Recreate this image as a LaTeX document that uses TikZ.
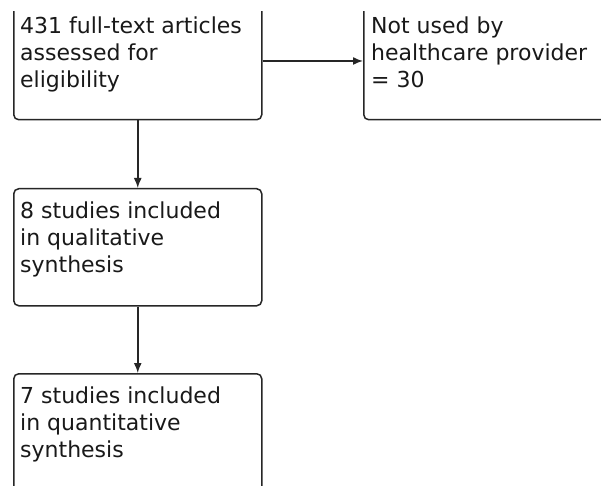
\documentclass[tikz,border=0pt]{standalone}
\usepackage{fontspec}
\setmainfont{DejaVu Sans}
\usetikzlibrary{arrows.meta}
\tikzset{
  box/.style={draw=black!85, line width=1.5pt, rounded corners=5pt, inner sep=0pt, anchor=north west},
  label/.style={anchor=north west, inner sep=0pt, align=left, text=black!90,
    font=\fontsize{22}{27}\selectfont},
  arr/.style={draw=black!85, line width=1.5pt, -{Latex[length=10pt,width=8pt]}}
}
\newcommand{\fl}{\rule{0pt}{17pt}}
\begin{document}
\begin{tikzpicture}[x=1pt,y=-1pt]
\useasboundingbox (0,0) rectangle (601,486);
\fill[white] (0,0) rectangle (601,486);
\begin{scope}
\clip (0,12) rectangle (601,486);
\node[box, minimum width=248pt, minimum height=149pt] (top) at (13,-30) {};
\node[box, minimum width=300pt, minimum height=149pt] (right) at (363,-30) {};
\node[box, minimum width=248pt, minimum height=117pt] (mid) at (13,188) {};
\node[box, minimum width=248pt, minimum height=150pt] (bot) at (13,373) {};
\coordinate (hy) at (0,61);
\draw[arr] (top.east |- hy) -- (right.west |- hy);
\draw[arr] (top.south) -- (mid.north);
\draw[arr] (mid.south) -- (bot.north);
\end{scope}
\node[label] (t1) at (20,16) {\fl431 full-text articles\\assessed for\\eligibility};
\node[label] (t2) at (371,16) {\fl Not used by\\healthcare provider\\= 30};
\node[label] (t3) at (20,201) {\fl 8 studies included\\in qualitative\\synthesis};
\node[label] (t4) at (20,386) {\fl 7 studies included\\in quantitative\\synthesis};
\end{tikzpicture}
\end{document}
